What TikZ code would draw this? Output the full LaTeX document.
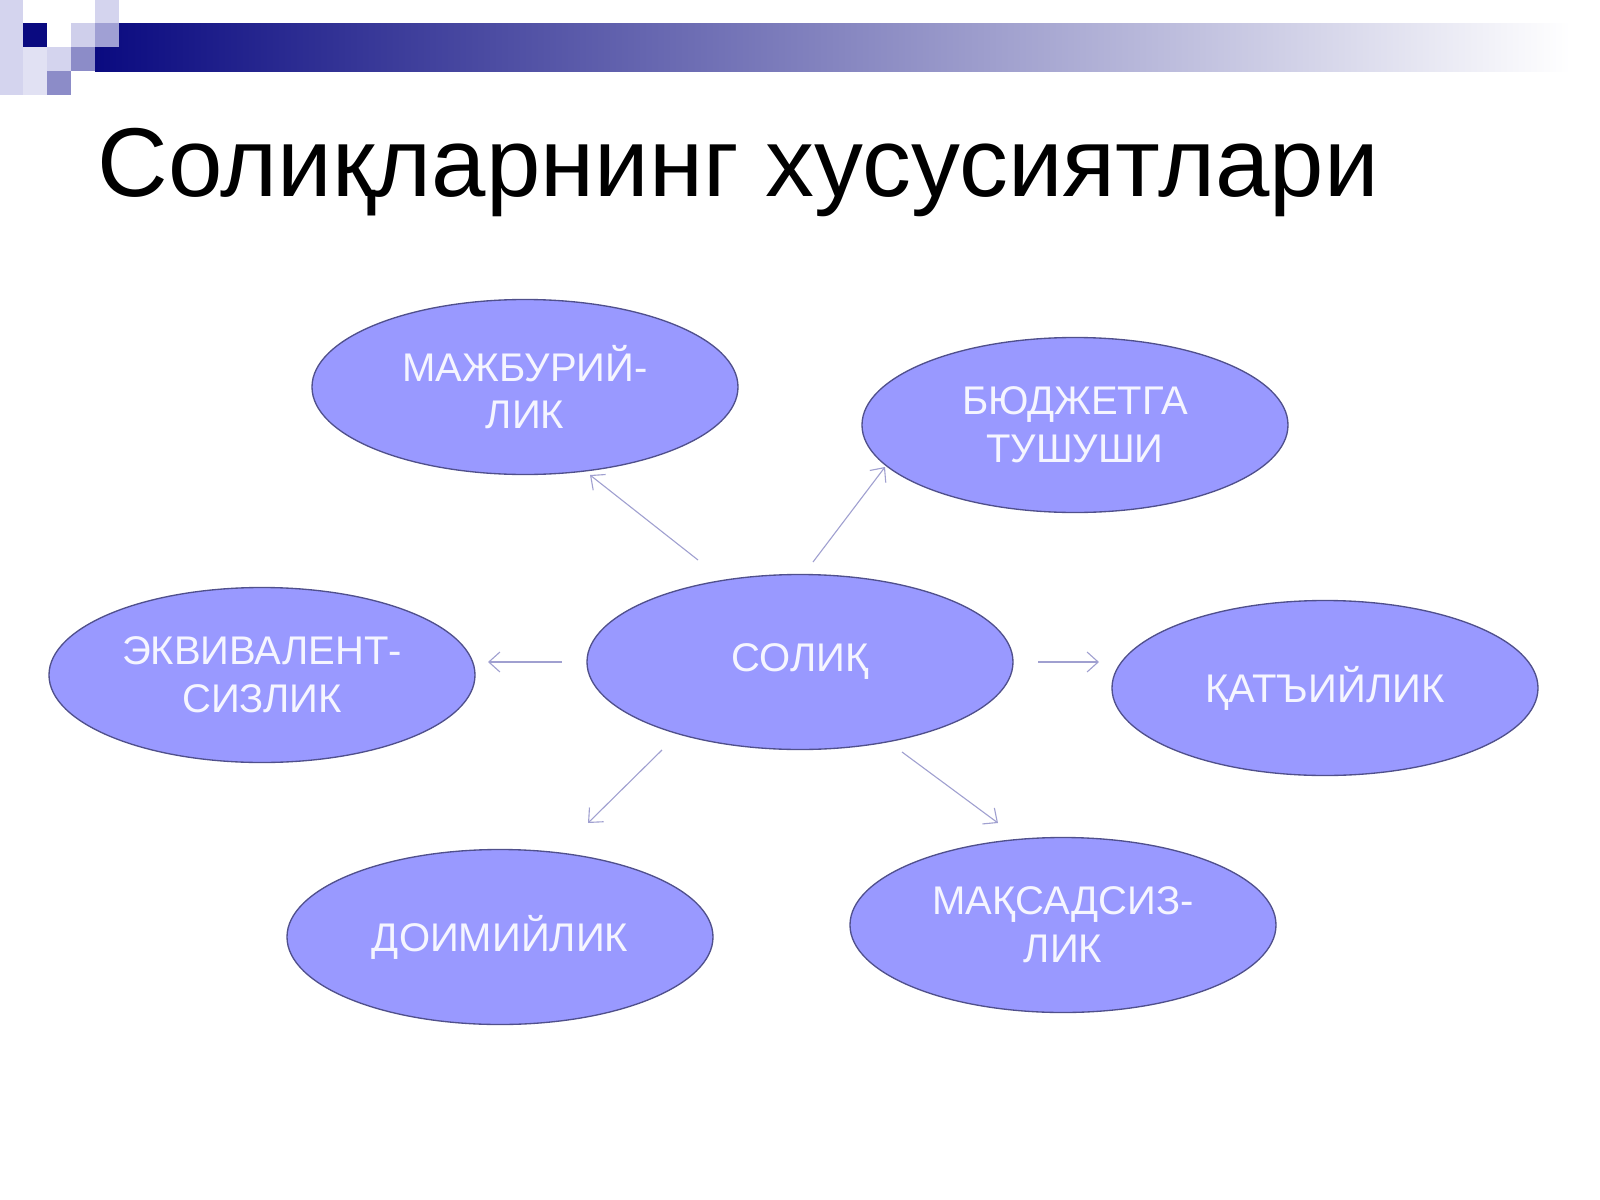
\documentclass[tikz,border=0pt]{standalone}
\usepackage{fontspec}
\setmainfont{Liberation Sans}
\usepackage{tikz}
\usetikzlibrary{shapes.geometric,arrows.meta}

\definecolor{barnavy}{RGB}{10,10,128}
\definecolor{sqlight}{RGB}{212,212,238}
\definecolor{sqmid}{RGB}{160,160,212}
\definecolor{sqdark}{RGB}{140,140,200}
\definecolor{ovalfill}{RGB}{153,153,255}
\definecolor{ovalline}{RGB}{80,80,140}
\definecolor{arrowcol}{RGB}{160,160,208}

\begin{document}
\begin{tikzpicture}[x=0.45pt, y=-0.45pt, >={Straight Barb[length=5pt,width=9pt]},
   prop/.style={ellipse, draw=ovalline, line width=0.6pt, fill=ovalfill,
      minimum width=191.7pt, minimum height=78.75pt, inner sep=0pt},
   proptext/.style={text=white!96!blue, align=center,
      font=\fontsize{18}{21.5}\selectfont},
   link/.style={->, draw=arrowcol, line width=0.5pt}]
   \useasboundingbox (0,0) rectangle (1600,1200);
   % top bar and squares
   \shade[left color=barnavy, right color=white] (95,23) rectangle (1570,71);
   \fill[sqlight] (0,0) rectangle (23,95);
   \fill[sqlight!70] (23,47) rectangle (47,95);
   \fill[barnavy] (23,23) rectangle (47,47);
   \fill[sqlight] (47,47) rectangle (71,71);
   \fill[sqdark] (47,71) rectangle (71,95);
   \fill[sqlight!90!sqmid] (71,23) rectangle (95,47);
   \fill[sqdark] (71,47) rectangle (95,71);
   \fill[sqlight] (95,0) rectangle (119,23);
   \fill[sqmid] (95,23) rectangle (119,47);
   % title
   \node[anchor=base west, inner sep=0pt, font=\fontsize{44}{50}\selectfont] (title) at (97,196)
      {Солиқларнинг хусусиятлари};
   % ovals
   \node[prop, label={[proptext]center:СОЛИҚ}] (solik) at (800,662) {};
   \node[prop, label={[proptext]center:МАЖБУРИЙ-\\ЛИК}] (majbur) at (525,387) {};
   \node[prop, label={[proptext]center:БЮДЖЕТГА\\ТУШУШИ}] (budjet) at (1075,425) {};
   \node[prop, label={[proptext]center:ЭКВИВАЛЕНТ-\\СИЗЛИК}] (ekviv) at (262,675) {};
   \node[prop, label={[proptext]center:ҚАТЪИЙЛИК}] (qatiy) at (1325,688) {};
   \node[prop, label={[proptext]center:ДОИМИЙЛИК}] (doimiy) at (500,937) {};
   \node[prop, label={[proptext]center:МАҚСАДСИЗ-\\ЛИК}] (maqsad) at (1063,925) {};
   % arrow ends
   \coordinate (nw-s) at (698,560);  \coordinate (nw-e) at (590,475);
   \coordinate (ne-s) at (813,562);  \coordinate (ne-e) at (885,467);
   \coordinate (w-s)  at (562,662);  \coordinate (w-e)  at (488,662);
   \coordinate (e-s)  at (1038,662); \coordinate (e-e)  at (1099,662);
   \coordinate (sw-s) at (662,750);  \coordinate (sw-e) at (588,823);
   \coordinate (se-s) at (902,752);  \coordinate (se-e) at (998,823);
   \path (nw-s) edge[link] (nw-e)
         (ne-s) edge[link] (ne-e)
         (w-s)  edge[link] (w-e)
         (e-s)  edge[link] (e-e)
         (sw-s) edge[link] (sw-e)
         (se-s) edge[link] (se-e);
\end{tikzpicture}
\end{document}
